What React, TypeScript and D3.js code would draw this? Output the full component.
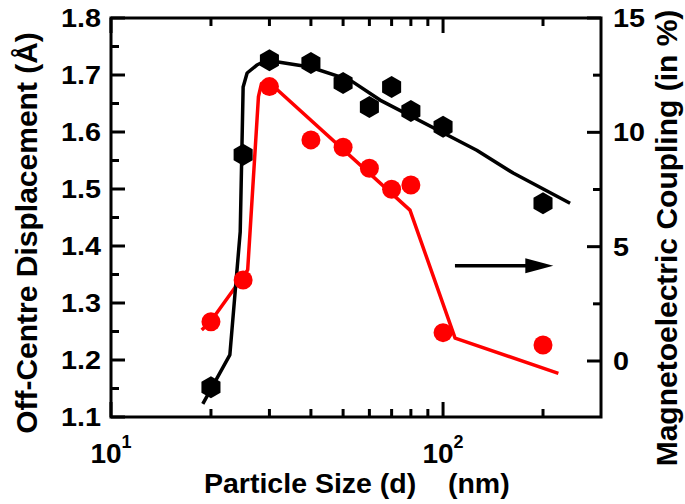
import React from "react";
import * as d3 from "d3";

// ---- data ----
const sizes = [20, 25, 30, 40, 50, 60, 70, 80, 100, 200];
const displacement = [1.152, 1.56, 1.726, 1.721, 1.686, 1.644, 1.679, 1.637, 1.609, 1.475];
const coupling = [1.72, 3.54, 12.0, 9.67, 9.35, 8.43, 7.51, 7.7, 1.24, 0.7];

const fitDispX = [18.9, 22.8, 24.5, 25.0, 25.7, 27.5, 29.5, 39.7, 52.5, 64.6, 126.3, 162.6, 241.3];
const fitDispY = [1.123, 1.209, 1.425, 1.679, 1.7035, 1.7175, 1.726, 1.714, 1.691, 1.656, 1.568, 1.528, 1.475];

const fitCoupX = [18.76, 20, 25.8, 27.8, 28.4, 29.8, 79.5, 108.7, 222.5];
const fitCoupY = [1.36, 1.75, 3.98, 11.56, 12.14, 12.21, 6.6, 1.0, -0.54];

const leftTicks = [1.1, 1.2, 1.3, 1.4, 1.5, 1.6, 1.7, 1.8];
const leftMinor = [1.15, 1.25, 1.35, 1.45, 1.55, 1.65, 1.75];
const rightTicks = [0, 5, 10, 15];
const rightMinor = [2.5, 7.5, 12.5];
const xMajor = [10, 100];
const xMajorExp = ["1", "2"];
const xMinor = [20, 30, 40, 50, 60, 70, 80, 90, 200];

// arrow annotation (data coords: x size, y coupling)
const arrowStart = [108.6, 4.16];
const arrowTip = [214.8, 4.16];

const FONT = "'Liberation Sans', Arial, Helvetica, sans-serif";

export default function App() {
  const L = 111, R = 601, T = 18, B = 417;
  const x = d3.scaleLog().domain([10, 299]).range([L, R]);
  const yL = d3.scaleLinear().domain([1.1, 1.8]).range([B, T]);
  const yR = d3.scaleLinear().domain([-2.449, 15]).range([B, T]);

  const lineL = d3.line<number>().x((_, i) => x(fitDispX[i])).y((d) => yL(d));
  const lineR = d3.line<number>().x((_, i) => x(fitCoupX[i])).y((d) => yR(d));

  const hex = (cx: number, cy: number, r: number) =>
    d3.range(6)
      .map((k) => {
        const a = (Math.PI / 3) * k - Math.PI / 2;
        return `${cx + r * Math.cos(a)},${cy + r * Math.sin(a)}`;
      })
      .join(" ");

  const ax0 = x(arrowStart[0]);
  const ax1 = x(arrowTip[0]);
  const ay = yR(arrowStart[1]);
  const headLen = 28;
  const headHalf = 7.5;

  return (
    <svg
      width={685}
      height={504}
      style={{ position: "absolute", left: 0, top: 0, background: "#fff" }}
      fontFamily={FONT}
      fontWeight="bold"
    >
      <rect x={0} y={0} width={685} height={504} fill="#fff" />
      {/* fit lines */}
      <path d={lineR(fitCoupY) || ""} fill="none" stroke="#ff0000" strokeWidth={3.5} strokeLinejoin="round" />
      <path d={lineL(fitDispY) || ""} fill="none" stroke="#000" strokeWidth={3.5} strokeLinejoin="round" />

      {/* markers */}
      {sizes.map((s, i) => (
        <circle key={"c" + i} cx={x(s)} cy={yR(coupling[i])} r={9.5} fill="#ff0000" />
      ))}
      {sizes.map((s, i) => (
        <polygon key={"h" + i} points={hex(x(s), yL(displacement[i]), 11)} fill="#000" />
      ))}

      {/* arrow */}
      <line x1={ax0} y1={ay} x2={ax1 - headLen + 2} y2={ay} stroke="#000" strokeWidth={3.5} />
      <polygon
        points={`${ax1},${ay} ${ax1 - headLen},${ay - headHalf} ${ax1 - headLen},${ay + headHalf}`}
        fill="#000"
      />

      {/* frame */}
      <rect x={L} y={T} width={R - L} height={B - T} fill="none" stroke="#000" strokeWidth={3} />

      {/* left ticks */}
      {leftTicks.map((t) => (
        <line key={"lt" + t} x1={L} x2={L + 14} y1={yL(t)} y2={yL(t)} stroke="#000" strokeWidth={3} />
      ))}
      {leftMinor.map((t) => (
        <line key={"lm" + t} x1={L} x2={L + 8} y1={yL(t)} y2={yL(t)} stroke="#000" strokeWidth={3} />
      ))}
      {leftTicks.map((t) => (
        <text
          key={"ll" + t}
          transform={`translate(101,${yL(t)}) scale(1.15,1)`}
          textAnchor="end"
          dy="0.36em"
          fontSize={25}
        >
          {t.toFixed(1)}
        </text>
      ))}

      {/* right ticks */}
      {rightTicks.map((t) => (
        <line key={"rt" + t} x1={R - 14} x2={R} y1={yR(t)} y2={yR(t)} stroke="#000" strokeWidth={3} />
      ))}
      {rightMinor.map((t) => (
        <line key={"rm" + t} x1={R - 8} x2={R} y1={yR(t)} y2={yR(t)} stroke="#000" strokeWidth={3} />
      ))}
      {rightTicks.map((t) => (
        <text
          key={"rl" + t}
          transform={`translate(613,${yR(t)}) scale(1.15,1)`}
          textAnchor="start"
          dy="0.36em"
          fontSize={25}
        >
          {t}
        </text>
      ))}

      {/* bottom & top ticks */}
      {xMajor.map((t) => (
        <g key={"xm" + t}>
          <line x1={x(t)} x2={x(t)} y1={B} y2={B - 15} stroke="#000" strokeWidth={3} />
          <line x1={x(t)} x2={x(t)} y1={T} y2={T + 15} stroke="#000" strokeWidth={3} />
        </g>
      ))}
      {xMinor.map((t) => (
        <g key={"xn" + t}>
          <line x1={x(t)} x2={x(t)} y1={B} y2={B - 8} stroke="#000" strokeWidth={3} />
          <line x1={x(t)} x2={x(t)} y1={T} y2={T + 8} stroke="#000" strokeWidth={3} />
        </g>
      ))}
      {xMajor.map((t, i) => (
        <text key={"xl" + t} x={x(t)} y={463} textAnchor="middle" fontSize={28}>
          10
          <tspan fontSize={18} dy={-15}>
            {xMajorExp[i]}
          </tspan>
        </text>
      ))}

      {/* axis titles */}
      <text x={204} y={493} fontSize={28.5}>
        {"Particle Size (d)\u00a0\u00a0\u00a0\u00a0(nm)"}
      </text>
      <text transform="translate(37,233) rotate(-90)" textAnchor="middle" fontSize={30}>
        Off-Centre Displacement (Å)
      </text>
      <text transform="translate(677,238) rotate(-90)" textAnchor="middle" fontSize={30}>
        Magnetoelectric Coupling (in %)
      </text>
    </svg>
  );
}
